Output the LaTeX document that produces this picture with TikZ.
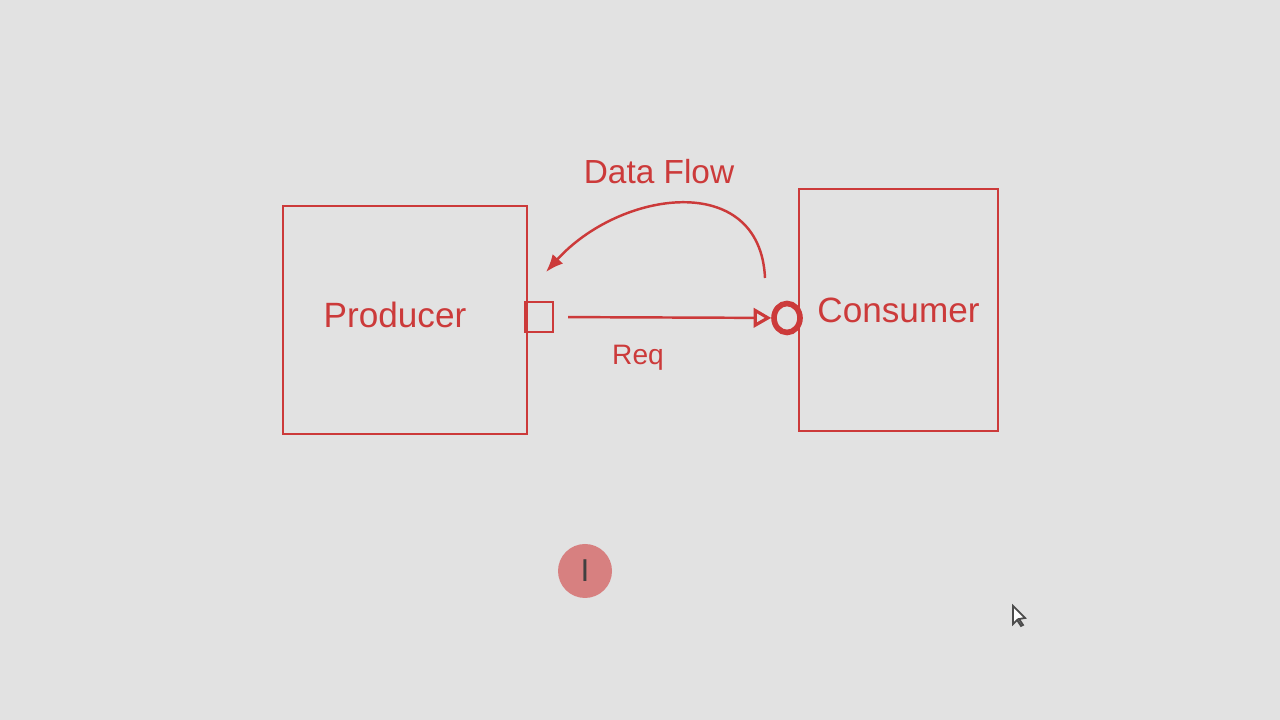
\documentclass[tikz,border=0pt]{standalone}
\usepackage{fontspec}
\setmainfont{Liberation Sans}
\usetikzlibrary{shapes}
\usetikzlibrary{positioning}
\usetikzlibrary{arrows.meta}
\definecolor{pen}{RGB}{204,58,58}
\definecolor{screen}{RGB}{226,226,226}
\definecolor{blob}{RGB}{214,112,112}
\tikzset{
    boxnode/.style = {rectangle, draw=pen, line width=0.8pt, inner sep=0pt, font=\fontsize{10}{12}\selectfont, text=pen},
    portnode/.style = {rectangle, draw=pen, line width=0.7pt, minimum width=0.28cm, minimum height=0.3cm, inner sep=0pt},
    plugnode/.style = {circle, draw=pen, line width=1.6pt, minimum width=0.26cm, minimum height=0.29cm, inner sep=0pt, ellipse},
    labelnode/.style = {text=pen, inner sep=1pt},
    edgereq/.style = {-{Triangle[open,length=5pt,width=5.5pt,line width=0.9pt]}, line width=0.7pt, pen},
    edgeflow/.style = {-{Latex[length=5pt,width=4pt]}, line width=0.7pt, pen}
}

\begin{document}
\begin{tikzpicture}
\fill[screen] (0,0) rectangle (12.8,7.2);
\useasboundingbox (0,0) rectangle (12.8,7.2);
\node[boxnode, minimum width=2.44cm, minimum height=2.28cm, label={[text=pen, font=\fontsize{10}{12}\selectfont, xshift=-0.1cm, yshift=0.05cm]center:Producer}] at (4.05, 4.00) (producer) {};
\node[boxnode, minimum width=1.99cm, minimum height=2.42cm] at (8.985, 4.10) (consumer) {Consumer};
\node[portnode] at (5.39, 4.03) (port) {};
\node[plugnode] at (7.87, 4.02) (plug) {};
\coordinate (flowstart) at (7.65, 4.42);
\coordinate (flowend) at (5.46, 4.48);
\draw[edgereq, shorten <=0.14cm] (port) -- (plug);
\draw[edgeflow] (flowstart) .. controls (7.6, 5.5) and (6.2, 5.3) .. (flowend);
\node[labelnode, font=\fontsize{9.5}{11}\selectfont] at (6.59, 5.48) (flowlabel) {Data Flow};
\node[labelnode, font=\fontsize{8}{10}\selectfont] at (6.38, 3.62) (reqlabel) {Req};
% cursor marks on the screen
\fill[blob, opacity=0.85] (5.85, 1.49) circle (0.27);
\node[font=\fontsize{9}{10}\selectfont, text=black!75] at (5.85, 1.49) (caret) {I};
\draw[black!70, line width=0.5pt, fill=white] (10.13, 1.14) -- (10.13, 0.96) -- (10.17, 1.00) -- (10.21, 0.94) -- (10.23, 0.95) -- (10.19, 1.01) -- (10.25, 1.02) -- cycle;
\end{tikzpicture}
\end{document}
